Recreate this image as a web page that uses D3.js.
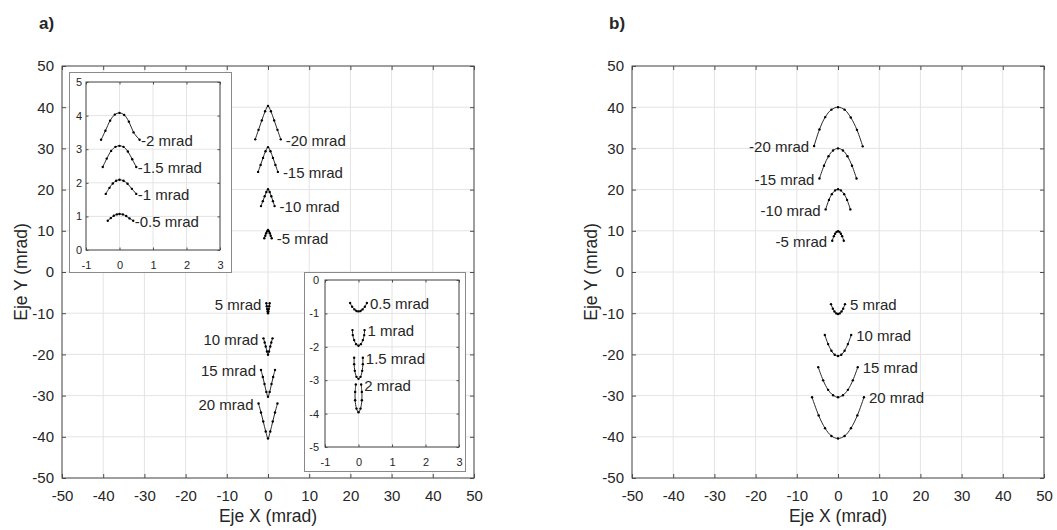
<!DOCTYPE html>
<html>
<head>
<meta charset="utf-8">
<script src="https://cdn.jsdelivr.net/npm/d3@7"></script>
<style>
  html, body { margin: 0; padding: 0; background: #fff; }
  svg { display: block; }
  text { font-family: "Liberation Sans", Arial, Helvetica, sans-serif; fill: #262626; }
</style>
</head>
<body>
<svg id="chart" width="1057" height="530"></svg>
<script>
// ---------------- DATA ----------------
const mainTicks = [-50, -40, -30, -20, -10, 0, 10, 20, 30, 40, 50];
const insetXTicks = [-1, 0, 1, 2, 3];
const insetATicksY = [0, 1, 2, 3, 4, 5];
const insetBTicksY = [-5, -4, -3, -2, -1, 0];
const panelNames = ["a)", "b)"];
const axisLabelX = "Eje X (mrad)";
const axisLabelY = "Eje Y (mrad)";

// Panel a, main axes
const aMainLabels = ["-20 mrad", "-15 mrad", "-10 mrad", "-5 mrad", "5 mrad", "10 mrad", "15 mrad", "20 mrad"];
const aMainSide = ["right", "right", "right", "right", "left", "left", "left", "left"];
const aMainX = [
  [-3.1, -2.3, -1.5, -0.7, 0, 0.7, 1.5, 2.3, 3.1],
  [-2.4, -1.8, -1.2, -0.6, 0, 0.6, 1.2, 1.8, 2.4],
  [-1.7, -1.25, -0.8, -0.4, 0, 0.4, 0.8, 1.2, 1.6],
  [-0.9, -0.65, -0.45, -0.2, 0, 0.2, 0.45, 0.65, 0.9],
  [-0.4, -0.3, -0.2, -0.1, 0, 0.1, 0.2, 0.3, 0.4],
  [-1.1, -0.8, -0.55, -0.25, 0, 0.25, 0.55, 0.8, 1.1],
  [-1.7, -1.25, -0.85, -0.4, 0, 0.4, 0.85, 1.25, 1.7],
  [-2.3, -1.7, -1.15, -0.55, 0, 0.55, 1.15, 1.7, 2.3]
];
const aMainY = [
  [32.2, 34.5, 36.8, 39.0, 40.3, 39.0, 36.8, 34.5, 32.2],
  [24.3, 26.0, 27.7, 29.3, 30.3, 29.3, 27.7, 26.0, 24.3],
  [16.0, 17.2, 18.4, 19.4, 20.1, 19.4, 18.4, 17.2, 16.0],
  [8.2, 8.8, 9.4, 9.9, 10.2, 9.9, 9.4, 8.8, 8.2],
  [-7.6, -8.3, -9.0, -9.6, -10.0, -9.6, -9.0, -8.3, -7.6],
  [-16.1, -17.1, -18.1, -19.3, -20.1, -19.3, -18.1, -17.1, -16.1],
  [-23.8, -25.5, -27.2, -29.1, -30.3, -29.1, -27.2, -25.5, -23.8],
  [-31.9, -34.1, -36.3, -38.7, -40.4, -38.7, -36.3, -34.1, -31.9]
];

// Panel a, upper-left inset
const insetALabels = ["-2 mrad", "-1.5 mrad", "-1 mrad", "-0.5 mrad"];
const insetAX = [
  [-0.55, -0.42, -0.28, -0.14, 0, 0.14, 0.28, 0.42, 0.6],
  [-0.5, -0.38, -0.25, -0.12, 0, 0.12, 0.25, 0.38, 0.5],
  [-0.41, -0.3, -0.2, -0.1, 0, 0.12, 0.24, 0.37, 0.5],
  [-0.35, -0.26, -0.17, -0.08, 0, 0.1, 0.2, 0.3, 0.41]
];
const insetAY = [
  [3.28, 3.55, 3.85, 4.03, 4.08, 4.02, 3.82, 3.5, 3.28],
  [2.47, 2.72, 2.95, 3.07, 3.1, 3.07, 2.93, 2.7, 2.47],
  [1.67, 1.85, 1.98, 2.06, 2.09, 2.06, 1.97, 1.82, 1.67],
  [0.87, 0.95, 1.02, 1.06, 1.07, 1.06, 1.01, 0.94, 0.87]
];

// Panel a, lower-right inset
const insetBLabels = ["0.5 mrad", "1 mrad", "1.5 mrad", "2 mrad"];
const insetBX = [
  [-0.25, -0.19, -0.12, -0.06, 0, 0.06, 0.12, 0.19, 0.25],
  [-0.18, -0.17, -0.13, -0.07, 0, 0.07, 0.13, 0.17, 0.18],
  [-0.13, -0.13, -0.11, -0.06, 0, 0.06, 0.11, 0.13, 0.13],
  [-0.08, -0.1, -0.1, -0.06, 0, 0.06, 0.1, 0.1, 0.08]
];
const insetBY = [
  [-0.69, -0.8, -0.88, -0.93, -0.94, -0.93, -0.88, -0.8, -0.69],
  [-1.5, -1.65, -1.8, -1.92, -1.97, -1.92, -1.8, -1.65, -1.5],
  [-2.33, -2.52, -2.72, -2.9, -2.96, -2.9, -2.72, -2.52, -2.33],
  [-3.13, -3.35, -3.6, -3.85, -3.96, -3.85, -3.6, -3.35, -3.13]
];

// Panel b
const bLabels = ["-20 mrad", "-15 mrad", "-10 mrad", "-5 mrad", "5 mrad", "10 mrad", "15 mrad", "20 mrad"];
const bSide = ["left", "left", "left", "left", "right", "right", "right", "right"];
const bX = [
  [-5.8, -4.5, -3.1, -1.6, 0, 1.6, 3.1, 4.6, 6.0],
  [-4.5, -3.4, -2.3, -1.2, 0, 1.2, 2.3, 3.4, 4.5],
  [-3.0, -2.2, -1.5, -0.7, 0, 0.7, 1.5, 2.2, 3.0],
  [-1.4, -1.0, -0.7, -0.35, 0, 0.35, 0.7, 1.0, 1.4],
  [-1.7, -1.25, -0.85, -0.4, 0, 0.4, 0.85, 1.25, 1.7],
  [-3.2, -2.4, -1.6, -0.8, 0, 0.8, 1.6, 2.4, 3.2],
  [-4.8, -3.6, -2.4, -1.2, 0, 1.2, 2.4, 3.6, 4.8],
  [-6.3, -4.7, -3.15, -1.6, 0, 1.6, 3.15, 4.7, 6.3]
];
const bY = [
  [30.6, 34.6, 37.6, 39.4, 40.0, 39.4, 37.5, 34.5, 30.5],
  [22.7, 25.8, 28.1, 29.5, 30.0, 29.5, 28.1, 25.8, 22.7],
  [15.2, 17.5, 18.9, 19.8, 20.1, 19.8, 18.9, 17.5, 15.2],
  [7.6, 8.7, 9.3, 9.75, 9.9, 9.75, 9.3, 8.7, 7.6],
  [-7.8, -8.9, -9.6, -10.05, -10.2, -10.05, -9.6, -8.9, -7.8],
  [-15.3, -17.5, -19.1, -20.1, -20.4, -20.1, -19.1, -17.5, -15.3],
  [-23.1, -26.3, -28.6, -29.9, -30.4, -29.9, -28.6, -26.3, -23.1],
  [-30.4, -34.8, -37.9, -39.8, -40.4, -39.8, -37.9, -34.8, -30.4]
];

// ---------------- DRAWING ----------------
const svg = d3.select("#chart");
const GRID = "#e4e4e4";
const BOX = "#4d4d4d";

function drawAxes(g, x, y, xt, yt, o) {
  const [x0, x1] = x.range();
  const [y0, y1] = y.range(); // y0 bottom, y1 top
  // grid
  g.append("g").selectAll("line.vx").data(xt).join("line")
    .attr("x1", d => x(d)).attr("x2", d => x(d)).attr("y1", y1).attr("y2", y0)
    .attr("stroke", GRID).attr("stroke-width", 1);
  g.append("g").selectAll("line.hy").data(yt).join("line")
    .attr("y1", d => y(d)).attr("y2", d => y(d)).attr("x1", x0).attr("x2", x1)
    .attr("stroke", GRID).attr("stroke-width", 1);
  // ticks (inward) on all four sides
  const tl = o.tick;
  const axB = d3.axisBottom(x).tickValues(xt).tickSize(-tl).tickPadding(o.xPad).tickFormat(d3.format("d"));
  const axT = d3.axisTop(x).tickValues(xt).tickSize(-tl).tickFormat("");
  const axL = d3.axisLeft(y).tickValues(yt).tickSize(-tl).tickPadding(o.yPad).tickFormat(d3.format("d"));
  const axR = d3.axisRight(y).tickValues(yt).tickSize(-tl).tickFormat("");
  const gb = g.append("g").attr("transform", `translate(0,${y0})`).call(axB);
  const gt = g.append("g").attr("transform", `translate(0,${y1})`).call(axT);
  const gl = g.append("g").attr("transform", `translate(${x0},0)`).call(axL);
  const gr = g.append("g").attr("transform", `translate(${x1},0)`).call(axR);
  [gb, gt, gl, gr].forEach(a => {
    a.select(".domain").remove();
    a.selectAll(".tick line").attr("stroke", BOX);
    a.selectAll("text").attr("font-size", o.fs).attr("fill", "#262626")
      .attr("font-family", '"Liberation Sans", Arial, sans-serif');
  });
  gb.selectAll("text").text(d => d < 0 ? "-" + Math.abs(d) : d);
  gl.selectAll("text").text(d => d < 0 ? "-" + Math.abs(d) : d);
  // box
  g.append("rect").attr("x", x0).attr("y", y1).attr("width", x1 - x0).attr("height", y0 - y1)
    .attr("fill", "none").attr("stroke", BOX).attr("stroke-width", 1);
}

function drawCurves(g, x, y, X, Y, labels, sides, gap, fs) {
  const line = d3.line().x(d => x(d[0])).y(d => y(d[1])).curve(d3.curveCatmullRom.alpha(0.5));
  X.forEach((xs, i) => {
    const pts = xs.map((v, j) => [v, Y[i][j]]);
    g.append("path").attr("d", line(pts)).attr("fill", "none")
      .attr("stroke", "#111").attr("stroke-width", 0.9);
    g.append("g").selectAll("circle").data(pts).join("circle")
      .attr("cx", d => x(d[0])).attr("cy", d => y(d[1])).attr("r", 1.2).attr("fill", "#000");
    const side = sides ? sides[i] : "right";
    const end = side === "right" ? pts[pts.length - 1] : pts[0];
    g.append("text")
      .attr("x", x(end[0]) + (side === "right" ? gap : -gap))
      .attr("y", y(end[1]) + 1)
      .attr("dy", "0.35em")
      .attr("text-anchor", side === "right" ? "start" : "end")
      .attr("font-size", fs)
      .text(labels[i]);
  });
}

function panel(offsetX, name) {
  const g = svg.append("g");
  const x = d3.scaleLinear().domain([-50, 50]).range([62 + offsetX, 474 + offsetX]);
  const y = d3.scaleLinear().domain([-50, 50]).range([478, 66]);
  drawAxes(g, x, y, mainTicks, mainTicks, { tick: 4, xPad: 12, yPad: 8, fs: 15 });
  // panel letter
  g.append("text").attr("x", 39 + offsetX).attr("y", 28.5).attr("font-size", 17)
    .attr("font-weight", "bold").attr("fill", "#000").text(name);
  // axis labels
  g.append("text").attr("x", (x.range()[0] + x.range()[1]) / 2).attr("y", 522)
    .attr("text-anchor", "middle").attr("font-size", 17.5).text(axisLabelX);
  g.append("text").attr("transform", `translate(${27 + offsetX},272) rotate(-90)`)
    .attr("text-anchor", "middle").attr("font-size", 17.5).text(axisLabelY);
  return { g, x, y };
}

// Panel a
const pa = panel(0, panelNames[0]);
drawCurves(pa.g, pa.x, pa.y, aMainX, aMainY, aMainLabels, aMainSide, 5, 15);

// Inset A
const gA = svg.append("g");
gA.append("rect").attr("x", 69.5).attr("y", 72.5).attr("width", 162).attr("height", 200)
  .attr("fill", "#fff").attr("stroke", "#8a8a8a").attr("stroke-width", 1);
const xA = d3.scaleLinear().domain([-1, 3]).range([86, 220]);
const yA = d3.scaleLinear().domain([0, 5]).range([250, 82]);
drawAxes(gA, xA, yA, insetXTicks, insetATicksY, { tick: 2.5, xPad: 11, yPad: 4, fs: 11 });
drawCurves(gA, xA, yA, insetAX, insetAY, insetALabels, null, 1.5, 15);

// Inset B
const gB = svg.append("g");
gB.append("rect").attr("x", 304.5).attr("y", 272.5).attr("width", 161).attr("height", 199)
  .attr("fill", "#fff").attr("stroke", "#8a8a8a").attr("stroke-width", 1);
const xB = d3.scaleLinear().domain([-1, 3]).range([325, 459]);
const yB = d3.scaleLinear().domain([-5, 0]).range([447, 280]);
drawAxes(gB, xB, yB, insetXTicks, insetBTicksY, { tick: 2.5, xPad: 11, yPad: 6, fs: 11 });
drawCurves(gB, xB, yB, insetBX, insetBY, insetBLabels, null, 3, 15);

// Panel b
const pb = panel(570, panelNames[1]);
drawCurves(pb.g, pb.x, pb.y, bX, bY, bLabels, bSide, 5, 15);
</script>
</body>
</html>
